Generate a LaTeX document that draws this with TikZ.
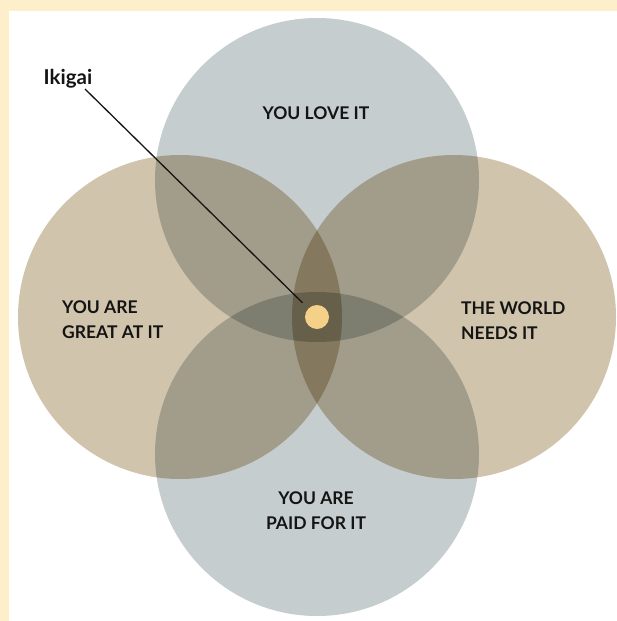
\documentclass[tikz,border=0pt]{standalone}
\usepackage{fontspec}
\setmainfont{Lato}
\definecolor{cream}{HTML}{FEEFCB}
\definecolor{bluegray}{HTML}{C6CDCE}
\definecolor{tan}{HTML}{D1C4AD}
\definecolor{dotcol}{HTML}{F4D088}
\definecolor{ink}{HTML}{141414}
\begin{document}
\begin{tikzpicture}[x=1pt,y=-1pt,
  ring/.style={circle, minimum size=324pt, inner sep=0pt, draw=none, blend mode=multiply},
  lbl/.style={font=\bfseries\fontsize{17.5}{25}\selectfont, text=ink, inner sep=0pt},
]
\useasboundingbox (0,0) rectangle (617,621);
\fill[cream] (0,0) rectangle (617,621);
\fill[white] (9,11) rectangle (617,621);
\node[ring, fill=bluegray] (love) at (317,180) {};
\node[ring, fill=tan] (great) at (180,317) {};
\node[ring, fill=tan] (world) at (454,317) {};
\node[ring, fill=bluegray] (paid) at (317,454) {};
\node[circle, fill=dotcol, minimum size=24pt, inner sep=0pt] (dot) at (317,317) {};
\node[lbl] (tlove) at (316,113) {YOU LOVE IT};
\node[lbl, align=left, anchor=west] (tgreat) at (62,320) {YOU ARE\\GREAT AT IT};
\node[lbl, align=left, anchor=west] (tworld) at (461,321) {THE WORLD\\NEEDS IT};
\node[lbl, align=center] (tpaid) at (316,511) {YOU ARE\\PAID FOR IT};
\node[font=\bfseries\fontsize{20.5}{22}\selectfont, text=ink, inner sep=0pt, anchor=base] (ikigai) at (68,84) {Ikigai};
\coordinate (lineStart) at (85,89);
\draw[line width=1.3pt, ink, shorten >=8pt] (lineStart) -- (dot);
\end{tikzpicture}
\end{document}
